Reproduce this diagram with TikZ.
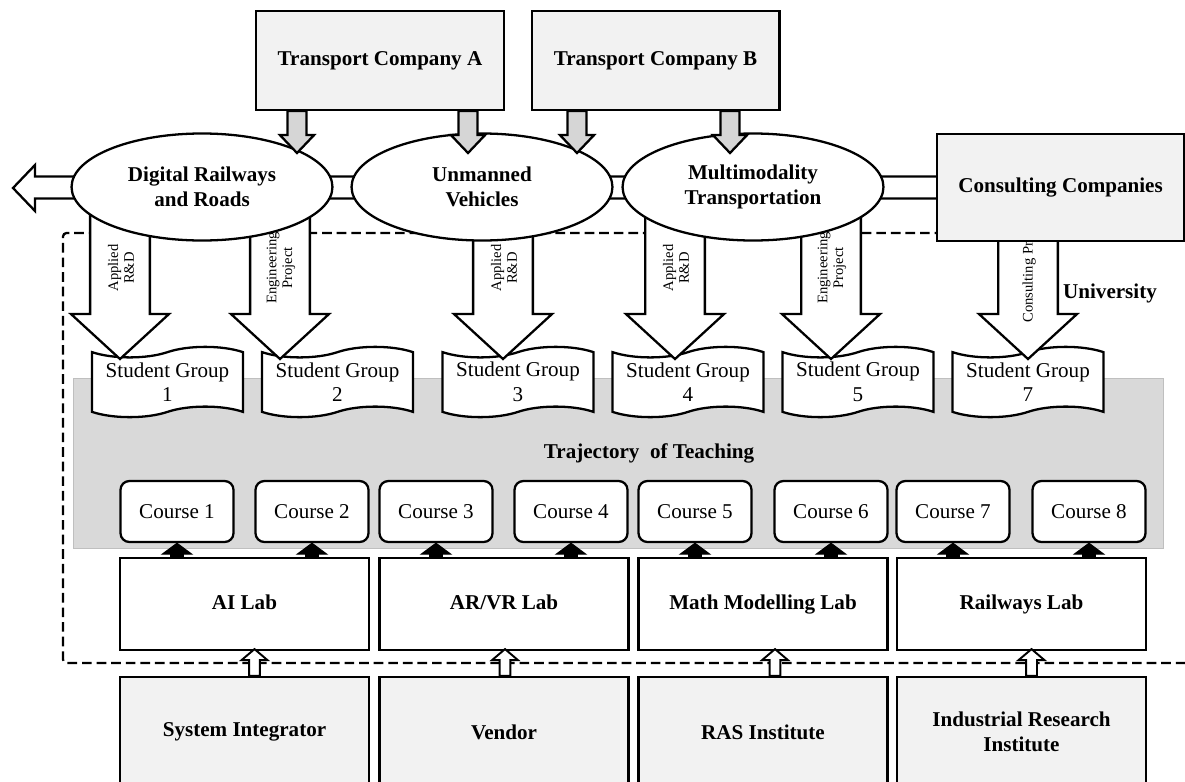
\documentclass[tikz,border=0pt]{standalone}
\usepackage{fontspec}
\setmainfont{Liberation Serif}
\usetikzlibrary{shapes.geometric,shapes.symbols,calc}

\definecolor{boxgray}{HTML}{F2F2F2}
\definecolor{arrowgray}{HTML}{D6D6D6}
\definecolor{bandgray}{HTML}{D9D9D9}
\definecolor{bandedge}{HTML}{BFBFBF}

% block arrow: style, start, tip, half shaft, half head, head length (signed)
\newcommand{\blockarrow}[6]{%
  \path[#1] let \p1=(#2), \p2=(#3) in
    (\x2-#4,\y1) -- (\x2-#4,\y2+#6) -- (\x2-#5,\y2+#6) -- (\x2,\y2)
    -- (\x2+#5,\y2+#6) -- (\x2+#4,\y2+#6) -- (\x2+#4,\y1) -- cycle;}

\begin{document}
\begin{tikzpicture}[x=0.02cm,y=-0.02cm,
    every node/.style={font=\fontsize{12}{14}\selectfont},
    boldtext/.style={font=\fontsize{12}{14}\selectfont\bfseries},
    partner/.style={boldtext,draw,line width=1.3pt,fill=boxgray,align=center,
      minimum width=141pt,minimum height=56.3pt},
    theme/.style={boldtext,ellipse,draw,line width=1.3pt,fill=white,align=center,
      inner sep=0pt,minimum width=148.5pt,minimum height=60.9pt},
    group/.style={tape,draw,line width=1.3pt,fill=white,align=center,inner sep=1pt,
      minimum width=85.9pt,minimum height=40pt,tape bend height=6pt},
    course/.style={draw,line width=1.3pt,fill=white,rounded corners=5pt,
      minimum width=64.3pt,minimum height=34.7pt},
    lab/.style={boldtext,draw,line width=1.3pt,fill=white,text height=8.5pt,text depth=2.5pt,
      minimum width=141.7pt,minimum height=52.3pt},
    armtext/.style={font=\fontsize{8.3}{9}\selectfont,rotate=90,align=center,inner sep=0pt},
    bigarrow/.style={draw,line width=1.3pt,fill=white},
    grayarrow/.style={draw,line width=1.3pt,fill=arrowgray},
    solidarrow/.style={draw,line width=0.5pt,fill=black},
    hollowarrow/.style={draw,line width=1.1pt,fill=white},
    channel/.style={draw,line width=1.3pt,fill=white},
    uniline/.style={line width=1.3pt,dash pattern=on 5.5pt off 2.8pt,rounded corners=2pt}]
  \useasboundingbox (0,0) rectangle (1185,781);
  \clip (0,0) rectangle (1185,781);

  % --- teaching band and university border ---
  \node[draw=bandedge,fill=bandgray,minimum width=620.2pt,minimum height=96.7pt] (band) at (618,463) {};
  \node[boldtext] (traj) at (649,453) {Trajectory~ of Teaching};
  \draw[uniline] (1200,663) -- (63,663) -- (63,233) -- (936,233);

  % --- student groups ---
  \foreach \n/\x in {1/167.5,2/337.5,3/518,4/688,5/858,7/1028}
    \node[group] (sg\n) at (\x,382) {Student Group\\\n};

  % --- projects going down to the groups ---
  \coordinate (railc) at (202,187);
  \coordinate (t1) at (120,359);
  \coordinate (t2) at (280,359);
  \coordinate (t3) at (503,359);
  \coordinate (t4) at (675,359);
  \coordinate (t5) at (831,359);
  \coordinate (t7) at (1028,359);
  \foreach \t/\txt in {1/Applied\\R\&D,2/Engineering\\Project,3/Applied\\R\&D,
      4/Applied\\R\&D,5/Engineering\\Project,7/Consulting Project}{
    \blockarrow{bigarrow}{t\t |- railc}{t\t}{17pt}{27.9pt}{25.6pt}
    \node[armtext] (pr\t) at ($(t\t)+(1,-91)$) {\txt};
  }

  % --- themes ---
  \coordinate (exit) at (13,188);
  \coordinate (ccw) at (936,187.5);
  \draw[channel] (exit) -- ++(22,-23) |- ($(ccw)+(5,-11)$) -- ++(0,22) -| ($(exit)+(22,23)$) -- cycle;
  \node[partner,minimum width=140.5pt,minimum height=60.9pt,anchor=west] (cc) at (ccw) {Consulting Companies};
  \node[theme] (rail) at (202,187) {Digital Railways\\and Roads};
  \node[theme] (auto) at (482,187) {Unmanned\\Vehicles};
  \node[theme] (multi) at (753,187) {Multimodality\\Transportation};

  % --- transport companies ---
  \node[partner] (tca) at (380,60.5) {Transport Company A};
  \node[partner] (tcb) at (655.5,60.5) {Transport Company B};
  \coordinate (g1) at (297,153);
  \coordinate (g2) at (468,153);
  \coordinate (g3) at (577,153);
  \coordinate (g4) at (730,153);
  \foreach \g in {1,2,3,4}{
    \blockarrow{grayarrow}{g\g |- tca.south}{g\g}{5.4pt}{9.7pt}{10.2pt}
  }
  \node[boldtext] (uni) at (1110,293) {University};

  % --- courses and labs ---
  \foreach \c/\x in {1/177,2/312,3/436,4/571,5/695,6/831,7/953,8/1089}
    \node[course] (c\c) at (\x,511.5) {Course \c};
  \node[lab] (ai) at (244.5,604) {AI Lab};
  \node[lab] (vr) at (504,604) {AR/VR Lab};
  \node[lab] (mm) at (763,604) {Math Modelling Lab};
  \node[lab] (rl) at (1021.5,604) {Railways Lab};
  \foreach \c/\l in {1/ai,2/ai,3/vr,4/vr,5/mm,6/mm,7/rl,8/rl}{
    \blockarrow{solidarrow}{c\c.south |- \l.north}{c\c.south}{3.7pt}{8.5pt}{-6.3pt}
  }

  % --- outside partners ---
  \node[partner,minimum width=141.7pt,minimum height=62.6pt] (si) at (244.5,732) {System Integrator};
  \node[partner,minimum width=141.7pt,minimum height=62.6pt] (ven) at (504,732) {Vendor};
  \node[partner,minimum width=141.7pt,minimum height=62.6pt] (ras) at (763,732) {RAS Institute};
  \node[partner,minimum width=141.7pt,minimum height=62.6pt] (iri) at (1021.5,732) {Industrial Research\\Institute};
  \foreach \l/\b/\dx in {ai/si/10,vr/ven/1,mm/ras/12,rl/iri/10}{
    \coordinate (h\l) at ($(\l.south)+(\dx,-2)$);
    \blockarrow{hollowarrow}{h\l |- \b.north}{h\l}{3.1pt}{7.4pt}{-6.3pt}
  }
\end{tikzpicture}
\end{document}
